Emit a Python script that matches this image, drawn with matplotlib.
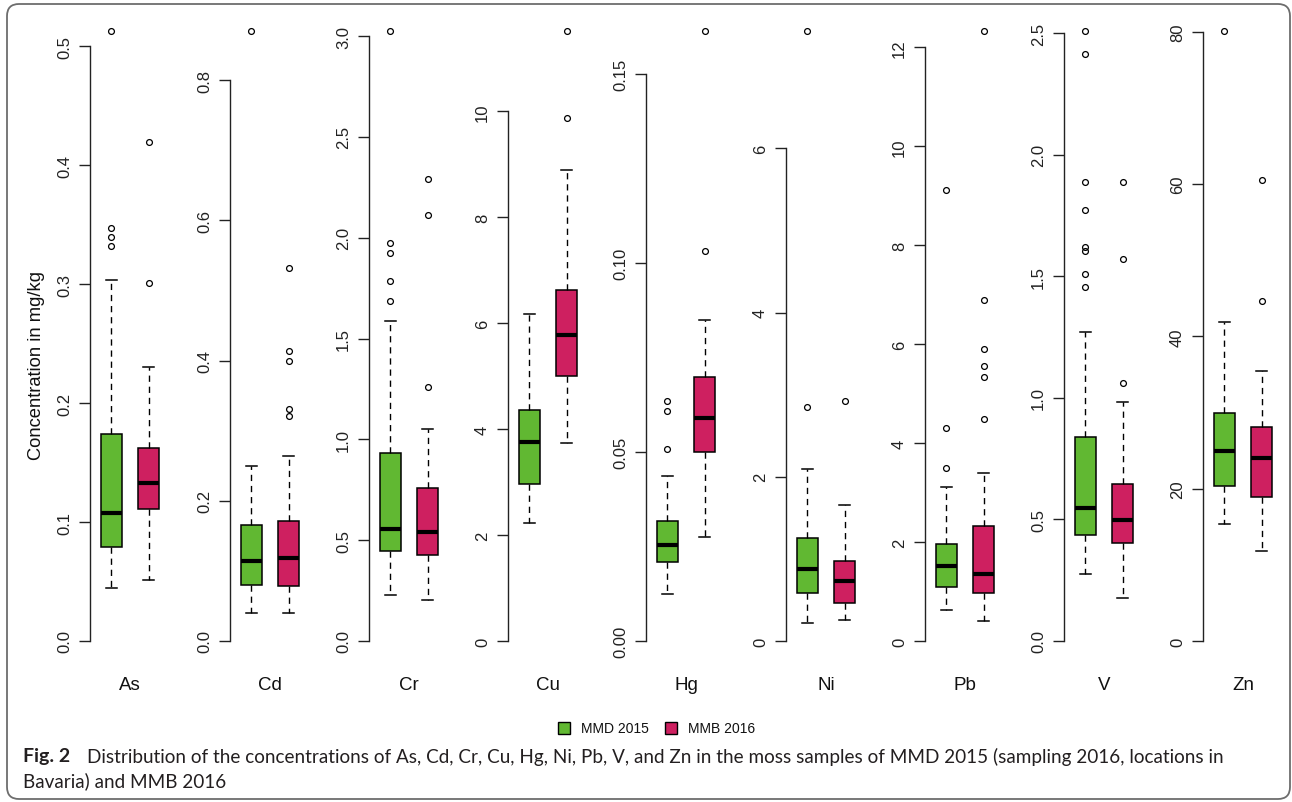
import matplotlib
matplotlib.use("Agg")
import matplotlib.pyplot as plt
from matplotlib.patches import FancyBboxPatch, Rectangle
from matplotlib.transforms import IdentityTransform

# ---------------- data ----------------
elements = ["As", "Cd", "Cr", "Cu", "Hg", "Ni", "Pb", "V", "Zn"]
groups = ["MMD 2015", "MMB 2016"]

# MMD 2015 (green)
g_whislo = [0.0445, 0.0404, 0.227, 2.22, 0.0124, 0.225, 0.62, 0.274, 15.3]
g_q1     = [0.079, 0.0795, 0.445, 2.97, 0.0210, 0.583, 1.10, 0.435, 20.3]
g_med    = [0.108, 0.1137, 0.555, 3.76, 0.0255, 0.879, 1.52, 0.547, 24.9]
g_q3     = [0.174, 0.165, 0.930, 4.37, 0.0317, 1.252, 1.97, 0.840, 30.0]
g_whishi = [0.304, 0.249, 1.585, 6.17, 0.0435, 2.09, 3.12, 1.270, 41.9]
g_out = [
    [0.332, 0.340, 0.347, 0.513],
    [0.870],
    [1.685, 1.783, 1.922, 1.974, 3.025],
    [],
    [0.0509, 0.0607, 0.0635],
    [2.85, 7.43],
    [3.50, 4.30, 9.11],
    [1.456, 1.508, 1.603, 1.620, 1.772, 1.889, 2.414, 2.509],
    [80.1],
]

# MMB 2016 (red)
r_whislo = [0.0515, 0.0404, 0.202, 3.74, 0.0276, 0.261, 0.40, 0.178, 11.8]
r_q1     = [0.1107, 0.0785, 0.426, 5.01, 0.0499, 0.460, 0.97, 0.404, 18.9]
r_med    = [0.1325, 0.118, 0.543, 5.77, 0.0590, 0.731, 1.36, 0.499, 24.0]
r_q3     = [0.162, 0.1717, 0.757, 6.62, 0.0698, 0.971, 2.32, 0.647, 28.1]
r_whishi = [0.2305, 0.264, 1.051, 8.90, 0.0850, 1.656, 3.39, 0.985, 35.5]
r_out = [
    [0.301, 0.420],
    [0.321, 0.331, 0.399, 0.413, 0.532],
    [1.261, 2.112, 2.293],
    [9.87, 11.52],
    [0.1031, 0.1613],
    [2.92],
    [4.49, 5.33, 5.56, 5.90, 6.89, 12.33],
    [1.063, 1.570, 1.889],
    [44.6, 60.55],
]

tick_labels = [
    ["0.0", "0.1", "0.2", "0.3", "0.4", "0.5"],
    ["0.0", "0.2", "0.4", "0.6", "0.8"],
    ["0.0", "0.5", "1.0", "1.5", "2.0", "2.5", "3.0"],
    ["0", "2", "4", "6", "8", "10"],
    ["0.00", "0.05", "0.10", "0.15"],
    ["0", "2", "4", "6"],
    ["0", "2", "4", "6", "8", "10", "12"],
    ["0.0", "0.5", "1.0", "1.5", "2.0", "2.5"],
    ["0", "20", "40", "60", "80"],
]

ylabel = "Concentration in mg/kg"
caption_bold = "Fig. 2"
caption_line1 = ("Distribution of the concentrations of As, Cd, Cr, Cu, Hg, Ni, Pb, V, and Zn "
                 "in the moss samples of MMD 2015 (sampling 2016, locations in")
caption_line2 = "Bavaria) and MMB 2016"

# ---------------- style ----------------
GREEN = "#61B832"
RED = "#CE2060"
W, H = 1292, 803
plt.rcParams["font.family"] = ["Liberation Sans", "DejaVu Sans"]
CAP_FONT = ["Lato", "DejaVu Sans"]

fig = plt.figure(figsize=(W / 100, H / 100), dpi=100)

axis_x = [90, 230, 369, 508, 646, 786, 925, 1064, 1203]
ax_w = 80
top_px, bot_px = 7.6, 666.4

for i, el in enumerate(elements):
    ax = fig.add_axes([axis_x[i] / W, 1 - bot_px / H, ax_w / W, (bot_px - top_px) / H])
    stats = [
        dict(whislo=g_whislo[i], q1=g_q1[i], med=g_med[i], q3=g_q3[i],
             whishi=g_whishi[i], fliers=g_out[i]),
        dict(whislo=r_whislo[i], q1=r_q1[i], med=r_med[i], q3=r_q3[i],
             whishi=r_whishi[i], fliers=r_out[i]),
    ]
    bp = ax.bxp(stats, positions=[1, 2], widths=0.58, patch_artist=True,
                boxprops=dict(linewidth=1.1, edgecolor="black"),
                medianprops=dict(color="black", linewidth=3.0, solid_capstyle="butt"),
                whiskerprops=dict(color="black", linewidth=1.0, linestyle=(0, (4.5, 3.5))),
                capprops=dict(color="black", linewidth=1.1),
                capwidths=0.29,
                flierprops=dict(marker="o", markerfacecolor="none", markeredgecolor="black",
                                markersize=4.2, markeredgewidth=0.9))
    for patch, c in zip(bp["boxes"], [GREEN, RED]):
        patch.set_facecolor(c)
    ymax = max(max(g_out[i] + [g_whishi[i]]), max(r_out[i] + [r_whishi[i]]))
    ax.set_ylim(-0.04 * ymax, 1.04 * ymax)
    ax.set_xlim(0.42, 2.58)
    ticks = [float(t) for t in tick_labels[i]]
    ax.set_yticks(ticks)
    ax.set_yticklabels(tick_labels[i], rotation=90, va="center", fontsize=12, color="#222222")
    ax.tick_params(axis="y", length=8, width=1.0, pad=5, color="#222222")
    ax.set_xticks([])
    for s in ["top", "right", "bottom"]:
        ax.spines[s].set_visible(False)
    ax.spines["left"].set_bounds(ticks[0], ticks[-1])
    ax.spines["left"].set_linewidth(1.0)
    ax.spines["left"].set_color("#222222")
    ax.patch.set_alpha(0)
    fig.text((axis_x[i] + 40) / W, 1 - 686 / H, el, ha="center", va="center", fontsize=13.5,
             color="#111111")

fig.text(37 / W, 1 - 365 / H, ylabel, rotation=90, ha="center", va="center", fontsize=13.2,
         color="#111111")

# legend
for x0, c, lab in [(564, GREEN, groups[0]), (671, RED, groups[1])]:
    fig.patches.append(Rectangle((x0 - 6, H - 729 - 6), 12, 12, transform=IdentityTransform(),
                                 facecolor=c, edgecolor="black", linewidth=1.0))
    fig.text((x0 + 17) / W, 1 - 729 / H, lab, ha="left", va="center", fontsize=10,
             color="#111111")

# caption
fig.text(23 / W, 1 - 757 / H, caption_bold, ha="left", va="center", fontsize=14,
         fontweight="bold", family=CAP_FONT, color="#231f20")
t1 = fig.text(87 / W, 1 - 757 / H, caption_line1, ha="left", va="center", fontsize=14,
              family=CAP_FONT, color="#231f20")
t2 = fig.text(23 / W, 1 - 781 / H, caption_line2, ha="left", va="center", fontsize=14,
              family=CAP_FONT, color="#231f20")
fig.canvas.draw()
w1 = t1.get_window_extent().width
fs = 14 * (1222 - 87) / w1
t1.set_fontsize(fs)
t2.set_fontsize(fs)

# frame
fig.patches.append(FancyBboxPatch((7, 3), 1283, 795, boxstyle="round,pad=0,rounding_size=12",
                                  transform=IdentityTransform(), facecolor="none",
                                  edgecolor="#6d6d6d", linewidth=1.3))

fig.savefig("out.png", dpi=100)
